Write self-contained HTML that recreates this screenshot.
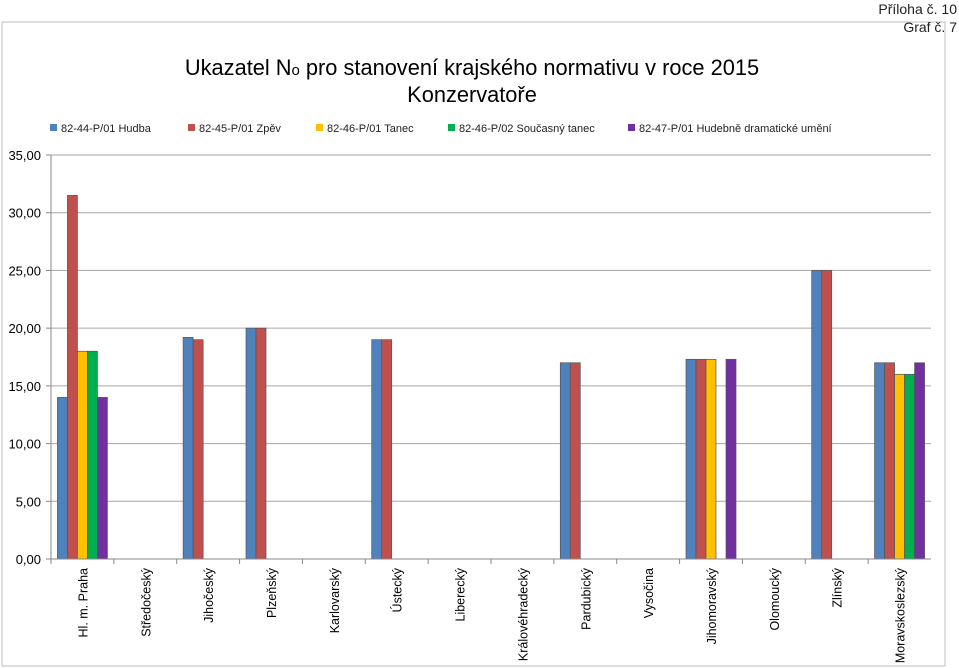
<!DOCTYPE html>
<html><head><meta charset="utf-8"><style>
body{margin:0;background:#fff;font-family:"Liberation Sans",sans-serif;}
svg{display:block}
</style></head><body>
<svg width="959" height="668" xmlns="http://www.w3.org/2000/svg">
<rect x="2" y="22" width="943" height="644" fill="none" stroke="#bfbfbf"/>
<text x="957" y="14" text-anchor="end" font-size="14" fill="#222">Příloha č. 10</text>
<text x="957" y="32" text-anchor="end" font-size="14" fill="#222">Graf č. 7</text>
<text x="472" y="75" text-anchor="middle" font-size="21.8" fill="#000">Ukazatel N<tspan font-size="15">o</tspan> pro stanovení krajského normativu v roce 2015</text>
<text x="472" y="102" text-anchor="middle" font-size="21.8" fill="#000">Konzervatoře</text>
<g id="legend" font-size="11" fill="#222"></g>
<g id="grid"></g><g id="bars"></g><g id="axes"></g>
</svg>
<script>
const categories=["Hl. m. Praha","Středočeský","Jihočeský","Plzeňský","Karlovarský","Ústecký","Liberecký","Královéhradecký","Pardubický","Vysočina","Jihomoravský","Olomoucký","Zlínský","Moravskoslezský"];
const seriesNames=["82-44-P/01 Hudba","82-45-P/01 Zpěv","82-46-P/01 Tanec","82-46-P/02 Současný tanec","82-47-P/01 Hudebně dramatické umění"];
const hudba=[14,0,19.2,20,0,19,0,0,17,0,17.3,0,25,17];
const zpev=[31.5,0,19,20,0,19,0,0,17,0,17.3,0,25,17];
const tanec=[18,0,0,0,0,0,0,0,0,0,17.3,0,0,16];
const soucasny=[18,0,0,0,0,0,0,0,0,0,0,0,0,16];
const drama=[14,0,0,0,0,0,0,0,0,0,17.3,0,0,17];
const yTicks=[0,5,10,15,20,25,30,35];
const yTickLabels=["0,00","5,00","10,00","15,00","20,00","25,00","30,00","35,00"];
const colors=["#4f81bd","#c0504d","#ffc000","#00b050","#7030a0"];
const NS="http://www.w3.org/2000/svg";
const L=51,R=931,T=155,B=559,ymax=35;
const y=v=>B-(v/ymax)*(B-T);
const gw=(R-L)/categories.length;
const x=i=>L+gw*i;
function mk(tag,parent,attrs){const e=document.createElementNS(NS,tag);for(const k in attrs)e.setAttribute(k,attrs[k]);parent.appendChild(e);return e;}
const grid=document.getElementById('grid'),bars=document.getElementById('bars'),axes=document.getElementById('axes'),legend=document.getElementById('legend');
yTicks.forEach((t,i)=>{
 if(t>0){const g=mk('line',grid,{x1:L,x2:R,y1:y(t),y2:y(t),stroke:'#a6a6a6','stroke-width':1});
 
 }
 const tk=mk('line',axes,{x1:L-5,x2:L,y1:y(t),y2:y(t),stroke:'#888'});
 
 
 const lb=mk('text',axes,{x:41,y:y(t)+5,'text-anchor':'end','font-size':13,fill:'#000'});
 lb.textContent=yTickLabels[i];
 
 
});
const series=[hudba,zpev,tanec,soucasny,drama];
const bw=10;
series.forEach((s,si)=>{s.forEach((v,i)=>{if(!v)return;
 const bx=x(i)+gw/2-bw*2.5+si*bw;
 const r=mk('rect',bars,{x:bx,y:y(v),width:bw,height:B-y(v),fill:colors[si],stroke:'#555','stroke-width':0.7});
 
 
});});
const xa=mk('line',axes,{x1:L,x2:R,y1:B,y2:B,stroke:'#888'});


const ya=mk('line',axes,{x1:L,x2:L,y1:T,y2:B,stroke:'#888'});


categories.forEach((c,i)=>{
 const tk=mk('line',axes,{x1:x(i),x2:x(i),y1:B,y2:B+5,stroke:'#888'});
 
 
 const cx=x(i)+gw/2+5;
 const t=mk('text',axes,{x:cx,y:568,'text-anchor':'end','font-size':12.5,fill:'#000',transform:`rotate(-90 ${cx} 568)`});
 t.textContent=c;
 
 
});
const lx=[50,188,316,448,628];
seriesNames.forEach((n,i)=>{
 const r=mk('rect',legend,{x:lx[i],y:124,width:7,height:7,fill:colors[i]});
 
 
 const t=mk('text',legend,{x:lx[i]+11,y:132});
 t.textContent=n;
 
 
});
</script>
</body></html>
